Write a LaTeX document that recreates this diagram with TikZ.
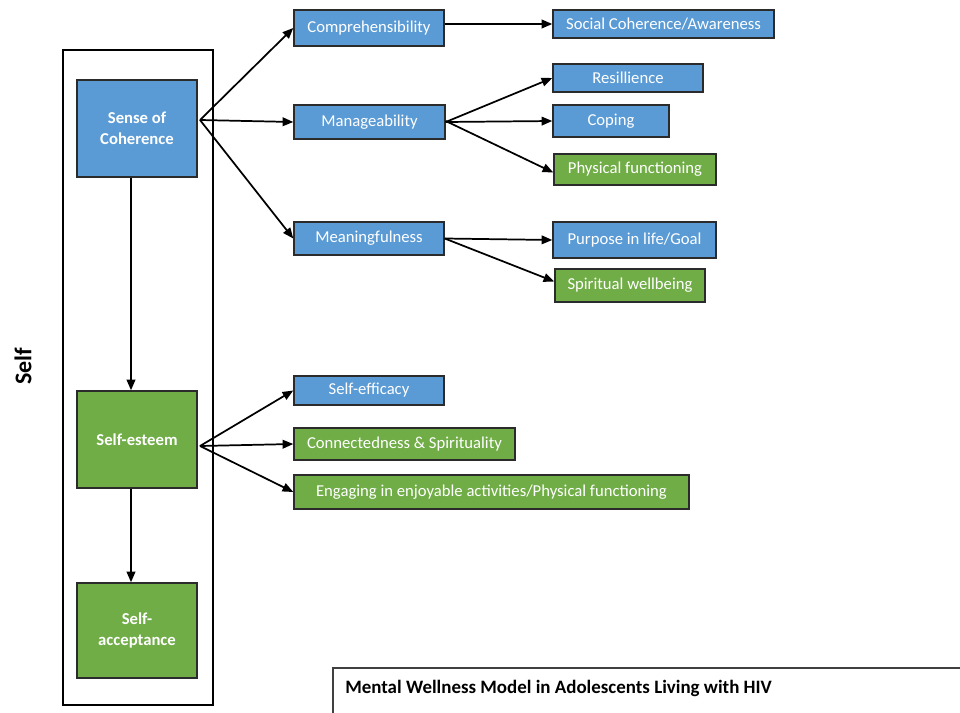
\documentclass[tikz,border=0pt]{standalone}
\usepackage{fontspec}
\setmainfont{Carlito}
\usetikzlibrary{arrows.meta,calc}
\definecolor{myblue}{HTML}{5B9BD5}
\definecolor{mygreen}{HTML}{70AD47}
\definecolor{edge}{HTML}{2B2B2B}
\begin{document}
\begin{tikzpicture}[x=0.75pt,y=-0.75pt,
  bx/.style={draw=edge, line width=1.1pt, text=white, inner sep=0pt, anchor=center,
    font=\fontsize{12.5}{15}\selectfont, align=center},
  blu/.style={bx, fill=myblue},
  grn/.style={bx, fill=mygreen},
  bigbox/.style={font=\bfseries\fontsize{12.5}{16}\selectfont},
  arr/.style={-{Triangle[length=8pt,width=6.5pt]}, line width=1.3pt, draw=black},
  varr/.style={arr, line width=1.5pt}
]
\useasboundingbox (0,0) rectangle (960,713);
% frame
\node[draw=black, line width=1.5pt, minimum width=112.5pt, minimum height=491.25pt, inner sep=0pt] (frame) at (138,377.5) {};
\node[rotate=90, font=\bfseries\fontsize{18}{21}\selectfont] (self) at (23,366) {Self};
% left column
\node[blu, bigbox, minimum width=90pt, minimum height=72.75pt] (soc) at (137,128.5) {Sense of\\Coherence};
\node[grn, bigbox, minimum width=90pt, minimum height=72.75pt] (se) at (137,439.5) {Self-esteem};
\node[grn, bigbox, minimum width=90pt, minimum height=71.25pt] (sa) at (137,630.5) {Self-\\acceptance};
% middle column
\node[blu, minimum width=112.5pt, minimum height=27pt] (comp) at (369,28) {Comprehensibility};
\node[blu, minimum width=113.25pt, minimum height=25.5pt] (man) at (369.5,122) {Manageability};
\node[blu, minimum width=112.5pt, minimum height=24.75pt] (mean) at (369,238.5) {Meaningfulness};
\node[blu, minimum width=112.5pt, minimum height=21.75pt] (seff) at (369,390.5) {Self-efficacy};
\node[grn, minimum width=165.75pt, minimum height=24pt] (conn) at (404.5,444) {Connectedness \& Spirituality};
\node[grn, minimum width=296.25pt, minimum height=25.5pt] (eng) at (491.5,492) {Engaging in enjoyable activities/Physical functioning};
% right column
\node[blu, minimum width=165.75pt, minimum height=21pt] (scoh) at (663.5,24) {Social Coherence/Awareness};
\node[blu, minimum width=112.5pt, minimum height=21pt] (res) at (628,78) {Resillience};
\node[blu, minimum width=87pt, minimum height=24pt] (cop) at (611,121) {Coping};
\node[grn, minimum width=121.5pt, minimum height=23.25pt] (phys) at (635,169.5) {Physical functioning};
\node[blu, minimum width=122.25pt, minimum height=27pt] (purp) at (634.5,240) {Purpose in life/Goal};
\node[grn, minimum width=112.5pt, minimum height=24.75pt] (spir) at (630,285.5) {Spiritual wellbeing};
% caption
\coordinate (capa) at (333,713);
\coordinate (capb) at (333,668);
\coordinate (capc) at (960,668);
\draw[draw=black!75, line width=0.8pt] (capa) -- (capb) -- (capc);
\node[anchor=west, inner sep=0pt, font=\bfseries\fontsize{14.2}{17}\selectfont] (cap) at (345,688) {Mental Wellness Model in Adolescents Living with HIV};
% connectors
\coordinate (socout) at (200,120);
\coordinate (seout) at (200,446);
\draw[arr] (socout) -- (comp.west);
\draw[arr] (socout) -- (man.west);
\draw[arr] (socout) -- (mean.west);
\draw[arr] (comp.east |- scoh.west) -- (scoh.west);
\draw[arr] (man.east) -- (res.west);
\draw[arr] (man.east) -- (cop.west);
\draw[arr] ($(man.east)+(0,-1)$) -- ($(phys.west)+(0,3)$);
\draw[arr] (mean.east) -- (purp.west);
\draw[arr] (mean.east) -- ($(spir.west)+(0,-4)$);
\draw[arr] (seout) -- (seff.west);
\draw[arr] (seout) -- (conn.west);
\draw[arr] (seout) -- (eng.west);
\draw[varr] ($(soc.south)+(-6,0)$) -- ($(se.north)+(-6,0)$);
\draw[varr] ($(se.south)+(-6,0)$) -- ($(sa.north)+(-6,0)$);
\end{tikzpicture}
\end{document}
